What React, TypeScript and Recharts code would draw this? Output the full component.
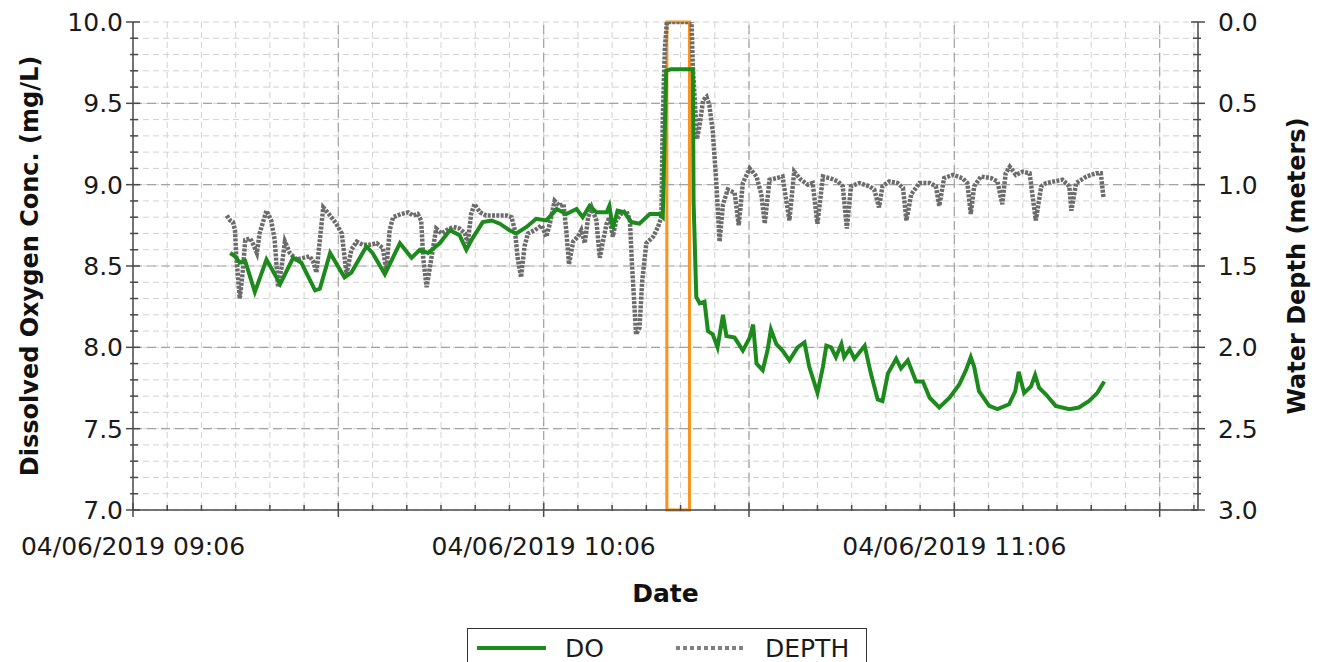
import { LineChart, Line, XAxis, YAxis, CartesianGrid, ReferenceLine, ReferenceArea } from 'recharts'

// minutes after 04/06/2019 09:06
const doMinutes = [
  14.2, 14.9, 15.6, 16.4, 17.8, 19.5, 21.5, 23.4, 24.6, 26.6,
  27.3, 28.8, 30.9, 31.9, 34.1, 35.0, 36.8, 39.0, 40.7, 41.9,
  43.1, 44.8, 46.3, 47.7, 48.7, 49.6, 51.1, 52.4, 53.6, 55.0,
  56.0, 57.5, 58.9, 60.4, 61.9, 63.3, 64.8, 65.7, 66.7, 67.7,
  69.2, 69.6, 70.1, 70.8, 71.8, 72.8, 74.0, 75.5, 76.9, 77.4,
  77.9, 78.6, 79.9, 81.8, 81.9, 82.3, 82.8, 83.5, 84.0, 84.7,
  85.4, 86.2, 86.7, 87.9, 89.1, 90.1, 90.6, 91.1, 92.0, 92.7,
  93.2, 94.0, 94.9, 95.9, 97.1, 98.1, 98.8, 100.0, 100.8, 101.3,
  102.0, 102.7, 103.5, 103.9, 104.7, 105.4, 106.9, 107.8, 108.8, 109.5,
  110.3, 111.5, 112.2, 113.2, 114.4, 115.4, 116.4, 117.8, 119.3, 120.7,
  121.7, 122.4, 122.9, 123.6, 125.1, 126.3, 128.0, 128.9, 129.4, 130.2,
  131.2, 131.8, 132.4, 133.4, 134.8, 136.8, 138.2, 139.7, 140.9, 141.9,
]
const doValues = [
  8.58, 8.56, 8.52, 8.53, 8.34, 8.54, 8.39, 8.55, 8.52, 8.35,
  8.36, 8.58, 8.43, 8.46, 8.62, 8.58, 8.45, 8.64, 8.55, 8.6,
  8.58, 8.64, 8.72, 8.69, 8.6, 8.67, 8.77, 8.78, 8.76, 8.72,
  8.7, 8.74, 8.79, 8.78, 8.85, 8.82, 8.85, 8.8, 8.87, 8.83,
  8.83, 8.87, 8.73, 8.84, 8.83, 8.77, 8.76, 8.82, 8.82, 8.8,
  9.7, 9.71, 9.71, 9.71, 8.9, 8.31, 8.27, 8.28, 8.1, 8.08,
  8.0, 8.2, 8.07, 8.06, 7.98, 8.06, 8.14, 7.9, 7.86, 7.98,
  8.11, 8.02, 7.98, 7.92, 8.0, 8.03, 7.88, 7.72, 7.88, 8.01,
  8.0, 7.94, 8.02, 7.94, 7.99, 7.93, 8.01, 7.84, 7.68, 7.67,
  7.84, 7.93, 7.87, 7.92, 7.79, 7.79, 7.69, 7.63, 7.69, 7.77,
  7.86, 7.94, 7.88, 7.73, 7.64, 7.62, 7.65, 7.73, 7.85, 7.72,
  7.76, 7.83, 7.75, 7.71, 7.64, 7.62, 7.63, 7.67, 7.72, 7.79,
]

const depthMinutes = [
  13.7, 14.2, 14.6, 14.9, 15.1, 15.6, 16.0, 16.4, 17.1, 17.6,
  18.1, 18.5, 19.5, 20.2, 20.7, 21.2, 21.7, 22.2, 22.9, 23.9,
  24.9, 25.8, 26.3, 26.8, 27.3, 27.8, 28.8, 29.7, 30.5, 31.2,
  31.9, 32.7, 33.6, 34.6, 35.6, 36.5, 37.0, 37.5, 38.0, 39.2,
  40.2, 40.9, 41.6, 42.1, 42.4, 42.9, 43.6, 44.3, 45.1, 45.8,
  46.8, 47.7, 48.5, 48.9, 49.4, 49.9, 50.7, 51.6, 53.1, 54.6,
  55.3, 55.8, 56.2, 56.7, 57.2, 57.7, 58.7, 59.7, 60.4, 60.9,
  61.6, 62.3, 62.9, 63.3, 63.7, 64.3, 65.0, 65.5, 66.0, 66.5,
  67.0, 67.7, 68.2, 68.7, 69.2, 69.6, 70.1, 70.6, 71.3, 72.1,
  72.6, 72.9, 73.5, 74.0, 74.4, 75.0, 76.0, 76.7, 77.2, 77.4,
  77.7, 78.0, 79.9, 81.6, 81.8, 82.4, 82.8, 83.3, 83.8, 84.2,
  84.7, 85.2, 85.7, 86.2, 86.9, 87.9, 88.5, 89.1, 90.1, 91.1,
  91.8, 92.3, 93.0, 94.0, 94.9, 95.9, 96.6, 97.6, 98.6, 99.3,
  100.0, 100.8, 101.8, 103.0, 103.7, 104.3, 104.9, 106.1, 107.6, 108.3,
  109.0, 109.5, 110.5, 111.7, 112.5, 113.0, 113.7, 114.9, 116.4, 117.3,
  117.8, 118.5, 119.8, 121.2, 121.9, 122.4, 122.9, 123.9, 125.4, 126.3,
  127.0, 127.5, 128.1, 129.0, 130.0, 131.0, 131.9, 132.7, 133.4, 134.6,
  135.8, 136.8, 137.1, 137.8, 139.3, 140.7, 141.4, 141.8,
]
const depthValues = [
  1.19, 1.22, 1.23, 1.28, 1.45, 1.7, 1.55, 1.34, 1.33, 1.37,
  1.42, 1.3, 1.16, 1.22, 1.34, 1.63, 1.51, 1.35, 1.42, 1.46,
  1.45, 1.44, 1.47, 1.54, 1.34, 1.14, 1.19, 1.24, 1.3, 1.55,
  1.4, 1.35, 1.37, 1.37, 1.36, 1.39, 1.53, 1.28, 1.2, 1.18,
  1.17, 1.19, 1.18, 1.22, 1.45, 1.63, 1.45, 1.27, 1.3, 1.28,
  1.26, 1.27, 1.3, 1.36, 1.18, 1.12, 1.17, 1.19, 1.19, 1.19,
  1.2, 1.28, 1.45, 1.57, 1.38, 1.3, 1.28, 1.25, 1.32, 1.24,
  1.1, 1.13, 1.12, 1.28, 1.49, 1.35, 1.32, 1.28, 1.36, 1.2,
  1.14, 1.22, 1.45, 1.34, 1.24, 1.2, 1.32, 1.22, 1.18, 1.16,
  1.22, 1.49, 1.92, 1.88, 1.59, 1.36, 1.32, 1.26, 1.2, 0.6,
  0.17, 0.0, 0.0, 0.0, 0.28, 0.72, 0.63, 0.48, 0.46, 0.51,
  0.67, 0.97, 1.35, 1.12, 1.03, 1.05, 1.25, 0.99, 0.9, 0.95,
  1.06, 1.24, 0.97, 0.96, 0.95, 1.22, 0.92, 0.97, 1.0, 0.99,
  1.24, 0.95, 0.96, 0.98, 1.01, 1.27, 1.01, 0.99, 1.01, 1.03,
  1.14, 1.01, 0.98, 0.99, 1.02, 1.22, 1.06, 0.99, 0.99, 1.01,
  1.13, 0.96, 0.94, 0.96, 0.99, 1.18, 1.01, 0.95, 0.96, 0.98,
  1.12, 0.93, 0.89, 0.94, 0.92, 0.93, 1.22, 1.01, 0.99, 0.98,
  0.97, 1.01, 1.16, 0.99, 0.95, 0.93, 0.93, 1.08,
]

const timeLabelTicks = [0, 60, 120]
const timeMajorTicks = [30, 60, 90, 120, 150]
const doMajorTicks = [7.5, 8.0, 8.5, 9.0, 9.5]
const highlightWindow = [78.0, 81.3]

const timeTicks = Array.from({ length: 32 }, (_, i) => i * 5)
const doTicks = Array.from({ length: 31 }, (_, i) => Math.round(70 + i) / 10)
const depthTicks = Array.from({ length: 31 }, (_, i) => i / 10)

const doData = doMinutes.map((t, i) => ({ t, value: doValues[i] }))
const depthData = depthMinutes.map((t, i) => ({ t, value: depthValues[i] }))

const FONT = "'DejaVu Sans', Verdana, sans-serif"
const AXIS = '#4a4a4a'

const isHalf = (v: number) => Math.abs(v * 2 - Math.round(v * 2)) < 1e-6

const fmtTime = (m: number) => {
  const total = 9 * 60 + 6 + m
  const hh = Math.floor(total / 60).toString().padStart(2, '0')
  const mm = (total % 60).toString().padStart(2, '0')
  return `04/06/2019 ${hh}:${mm}`
}

const BottomTick = (props: any) => {
  const { x, y, payload } = props
  const v = payload.value
  const major = v % 30 === 0
  return (
    <g>
      <line x1={x} x2={x} y1={major ? y - 7 : y - 5} y2={major ? y + 7 : y + 1} stroke={AXIS} strokeWidth={1.5} />
      {timeLabelTicks.includes(v) && (
        <text x={x} y={y + 45} textAnchor="middle" fontSize={25} fontFamily={FONT} fill="#1a1a1a">
          {fmtTime(v)}
        </text>
      )}
    </g>
  )
}

const TopTick = (props: any) => {
  const { x, y, payload } = props
  const major = payload.value % 30 === 0
  return <line x1={x} x2={x} y1={y} y2={major ? y + 8 : y + 5} stroke={AXIS} strokeWidth={1.5} />
}

const LeftTick = (props: any) => {
  const { x, y, payload } = props
  const v = payload.value
  const major = isHalf(v)
  return (
    <g>
      <line x1={major ? x - 7 : x - 3} x2={major ? x + 7 : x + 5} y1={y} y2={y} stroke={AXIS} strokeWidth={1.5} />
      {major && (
        <text x={x - 10} y={y + 9} textAnchor="end" fontSize={25} fontFamily={FONT} fill="#1a1a1a">
          {v.toFixed(1)}
        </text>
      )}
    </g>
  )
}

const RightTick = (props: any) => {
  const { x, y, payload } = props
  const v = payload.value
  const major = isHalf(v)
  return (
    <g>
      <line x1={major ? x - 7 : x - 5} x2={major ? x + 7 : x + 3} y1={y} y2={y} stroke={AXIS} strokeWidth={1.5} />
      {major && (
        <text x={x + 20} y={y + 9} textAnchor="start" fontSize={25} fontFamily={FONT} fill="#1a1a1a">
          {v.toFixed(1)}
        </text>
      )}
    </g>
  )
}

const SideTitle = (props: any) => {
  const { viewBox, text, dx } = props
  const cx = viewBox.x + dx
  const cy = viewBox.y + viewBox.height / 2
  return (
    <text
      x={cx}
      y={cy}
      transform={`rotate(-90 ${cx} ${cy})`}
      textAnchor="middle"
      dominantBaseline="central"
      fontSize={24}
      fontWeight="bold"
      fontFamily={FONT}
      fill="#111"
    >
      {text}
    </text>
  )
}

const BottomTitle = (props: any) => {
  const { viewBox, text } = props
  return (
    <text
      x={viewBox.x + viewBox.width / 2}
      y={viewBox.y + 92}
      textAnchor="middle"
      fontSize={25}
      fontWeight="bold"
      fontFamily={FONT}
      fill="#111"
    >
      {text}
    </text>
  )
}

export default function App() {
  return (
    <div style={{ position: 'absolute', left: 0, top: 0, width: 1320, height: 662, background: '#fff', overflow: 'hidden' }}>
      <LineChart width={1320} height={662} margin={{ top: 22, right: 0, bottom: 0, left: 0 }}>
        <CartesianGrid xAxisId="time" yAxisId="do" stroke="#d2d2d2" strokeDasharray="6 4" strokeWidth={1} />
        <XAxis
          xAxisId="time"
          type="number"
          dataKey="t"
          domain={[0, 155.6]}
          ticks={timeTicks}
          interval={0}
          height={152}
          tickSize={0}
          tickMargin={0}
          tickLine={false}
          axisLine={{ stroke: AXIS, strokeWidth: 1.5 }}
          tick={(p: any) => <BottomTick {...p} />}
          label={<BottomTitle text="Date" />}
          allowDataOverflow
        />
        <XAxis
          xAxisId="top"
          orientation="top"
          type="number"
          dataKey="t"
          domain={[0, 155.6]}
          ticks={timeTicks}
          interval={0}
          height={0}
          tickSize={0}
          tickMargin={0}
          tickLine={false}
          axisLine={{ stroke: AXIS, strokeWidth: 1.5 }}
          tick={(p: any) => <TopTick {...p} />}
          allowDataOverflow
        />
        <YAxis
          yAxisId="do"
          type="number"
          domain={[7, 10]}
          ticks={doTicks}
          interval={0}
          width={133}
          tickSize={0}
          tickMargin={0}
          tickLine={false}
          axisLine={{ stroke: AXIS, strokeWidth: 1.5 }}
          tick={(p: any) => <LeftTick {...p} />}
          label={<SideTitle text="Dissolved Oxygen Conc. (mg/L)" dx={30} />}
          allowDataOverflow
        />
        <YAxis
          yAxisId="depth"
          orientation="right"
          type="number"
          domain={[0, 3]}
          reversed
          ticks={depthTicks}
          interval={0}
          width={122}
          tickSize={0}
          tickMargin={0}
          tickLine={false}
          axisLine={{ stroke: AXIS, strokeWidth: 1.5 }}
          tick={(p: any) => <RightTick {...p} />}
          label={<SideTitle text="Water Depth (meters)" dx={99} />}
          allowDataOverflow
        />
        {timeMajorTicks.map((v) => (
          <ReferenceLine key={`vx${v}`} xAxisId="time" yAxisId="do" x={v} stroke="#a3a3a3" strokeDasharray="9 5" strokeWidth={1.2} />
        ))}
        {doMajorTicks.map((v) => (
          <ReferenceLine key={`hy${v}`} xAxisId="time" yAxisId="do" y={v} stroke="#a3a3a3" strokeDasharray="9 5" strokeWidth={1.2} />
        ))}
        <Line
          xAxisId="time"
          yAxisId="depth"
          data={depthData}
          dataKey="value"
          name="DEPTH"
          type="linear"
          stroke="#6c6c6c"
          strokeWidth={4.5}
          strokeDasharray="3 1.3"
          dot={false}
          isAnimationActive={false}
        />
        <Line
          xAxisId="time"
          yAxisId="do"
          data={doData}
          dataKey="value"
          name="DO"
          type="linear"
          stroke="#1d8a1d"
          strokeWidth={4}
          dot={false}
          isAnimationActive={false}
        />
        <ReferenceArea
          xAxisId="time"
          yAxisId="do"
          x1={highlightWindow[0]}
          x2={highlightWindow[1]}
          fill="none"
          fillOpacity={0}
          stroke="#f7931e"
          strokeWidth={3}
        />
      </LineChart>
      <div
        style={{
          position: 'absolute',
          left: 467,
          top: 628,
          width: 398,
          height: 40,
          border: '1.5px solid #333',
          background: '#fff',
          fontFamily: FONT,
          fontSize: 25,
          color: '#1a1a1a',
        }}
      >
        <svg width={398} height={40} style={{ position: 'absolute', left: 0, top: 0 }}>
          <line x1={9} x2={78} y1={19} y2={19} stroke="#1d8a1d" strokeWidth={4} />
          <text x={97} y={28} fontSize={25} fontFamily={FONT} fill="#1a1a1a">DO</text>
          <line x1={208} x2={278} y1={19} y2={19} stroke="#808080" strokeWidth={4} strokeDasharray="4 3" />
          <text x={297} y={28} fontSize={25} fontFamily={FONT} fill="#1a1a1a">DEPTH</text>
        </svg>
      </div>
    </div>
  )
}
